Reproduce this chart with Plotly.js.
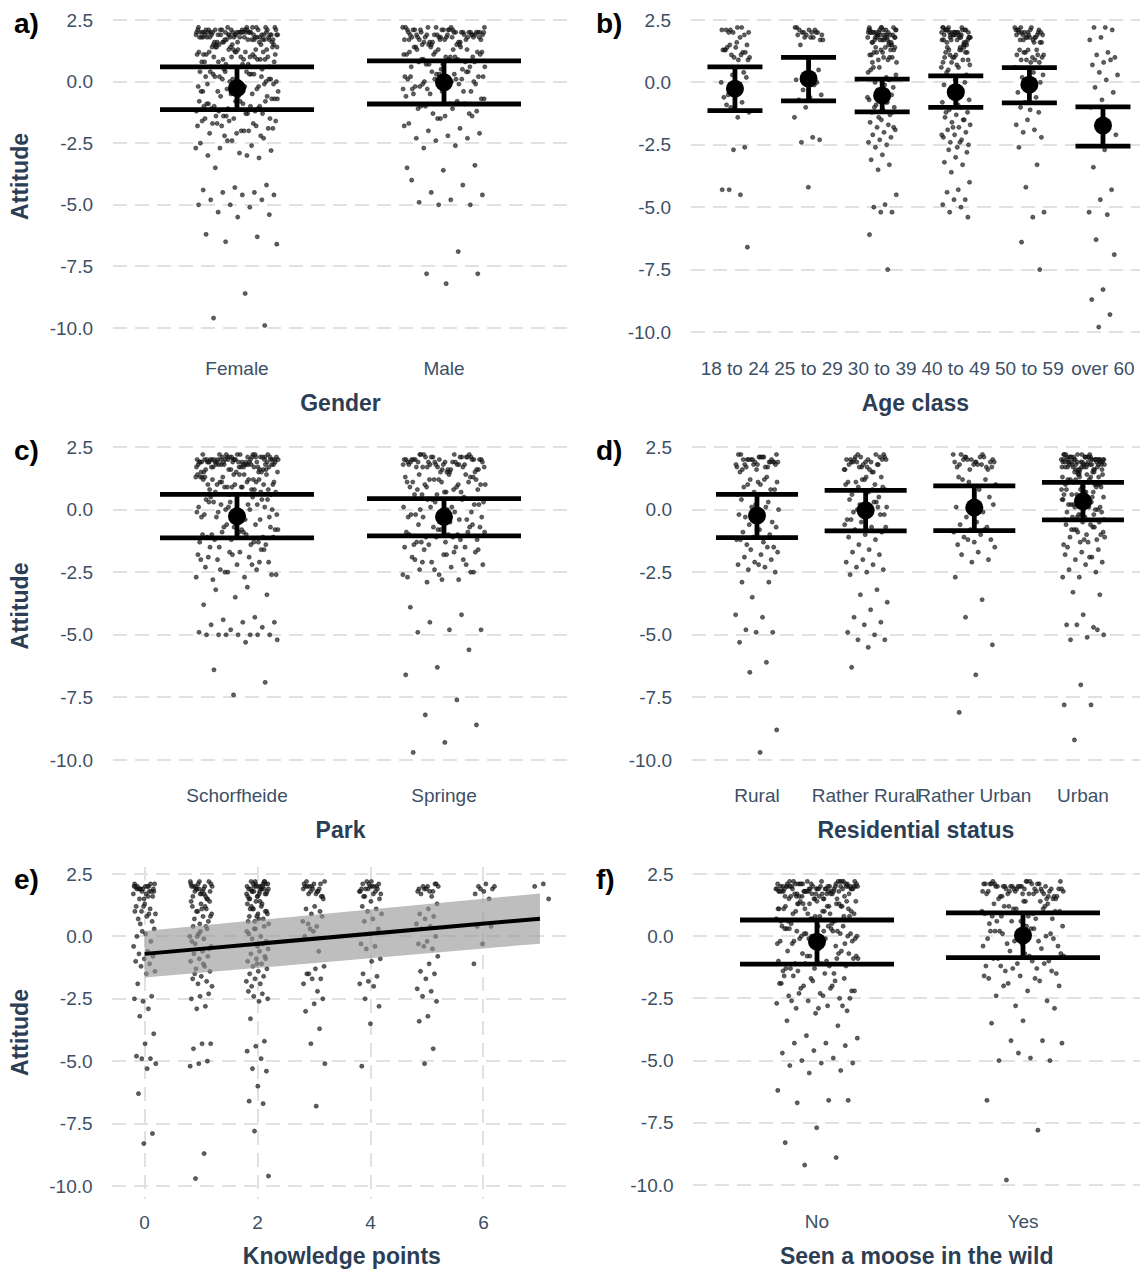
<!DOCTYPE html>
<html>
<head>
<meta charset="utf-8">
<script src="https://cdn.plot.ly/plotly-3.0.1.min.js"></script>
<style>html,body{margin:0;padding:0;background:#fff;}#chart{width:1140px;height:1269px;}</style>
</head>
<body>
<div id="chart"></div>
<script>
// ---------------- DATA ----------------
const yTickVals = [2.5, 0, -2.5, -5, -7.5, -10];
const yTickText = ['2.5', '0.0', '-2.5', '-5.0', '-7.5', '-10.0'];

// a) Gender
const genderCats = ['Female', 'Male'];
const attFemale = [2.2,2.1,2.0,1.9,1.8,1.7,1.6,1.5,2.1,2.0,1.9,1.8,2.2,2.0,1.9,1.7,1.6,2.1,1.8,2.0,1.9,2.1,1.5,1.7,2.0,1.8,2.2,1.9,1.6,2.0,2.1,1.8,1.9,2.0,1.7,1.5,2.1,1.9,2.0,1.8,1.6,2.2,2.0,1.9,1.7,2.1,1.8,2.0,1.5,1.9,2.0,1.8,2.1,1.7,1.9,2.0,1.6,2.2,1.8,2.0,1.9,2.1,1.7,2.0,1.8,1.5,1.9,2.1,2.0,1.6,1.8,2.0,1.9,2.2,1.7,2.1,1.8,2.0,1.9,1.5,2.0,1.7,2.1,1.9,1.8,2.0,1.6,2.2,1.9,2.1,
1.4,1.3,1.2,1.1,1.0,0.9,0.8,0.7,0.6,0.5,1.4,1.2,1.0,0.8,0.6,1.3,1.1,0.9,0.7,1.4,1.2,1.0,0.9,1.3,0.8,1.1,0.6,1.4,1.0,1.2,0.9,1.3,1.1,0.7,1.4,1.0,1.2,0.8,1.3,0.5,1.1,0.9,1.4,1.2,1.0,
0.4,0.3,0.2,0.1,0.0,-0.1,-0.2,-0.3,-0.4,0.4,0.2,0.0,-0.2,-0.4,0.3,0.1,-0.1,-0.3,0.4,0.2,0.0,-0.2,0.3,-0.4,0.1,-0.1,0.2,-0.3,0.4,0.0,-0.2,0.3,-0.1,0.1,-0.4,
-0.5,-0.6,-0.7,-0.8,-0.9,-1.0,-1.1,-1.2,-1.3,-1.4,-0.6,-0.8,-1.0,-1.2,-1.4,-0.7,-0.9,-1.1,-1.3,-0.5,-0.8,-1.0,-1.2,-1.5,-0.6,-0.9,-1.1,-1.4,-0.7,-1.3,-1.0,-0.8,
-1.5,-1.6,-1.7,-1.8,-1.9,-2.0,-2.1,-2.2,-1.6,-1.8,-2.0,-1.7,-1.9,-2.1,-1.5,-1.8,-2.2,-1.6,-2.0,-1.7,
-2.3,-2.4,-2.5,-2.6,-2.7,-2.8,-2.9,-3.0,-3.1,-2.4,-2.7,-3.0,
-3.5,-4.2,-4.3,-4.4,-4.5,-4.5,-4.6,-4.6,-4.8,-4.8,-5.0,-5.0,-5.1,-5.3,-5.4,-5.5,-6.2,-6.3,-6.5,-6.6,-8.6,-9.6,-9.9];
const attMale = [2.2,2.1,2.0,1.9,1.8,1.7,1.6,1.5,2.0,2.1,1.9,1.8,2.2,1.7,2.0,1.6,1.9,2.1,1.8,2.0,1.5,1.9,2.2,1.7,2.0,1.8,2.1,1.6,1.9,2.0,1.8,2.1,1.7,1.9,2.2,2.0,1.5,1.8,2.1,1.9,2.0,1.6,1.7,2.1,1.8,2.0,1.9,2.2,1.5,1.8,2.0,1.7,2.1,1.9,1.6,2.0,1.8,2.1,1.9,1.7,2.0,1.5,2.2,1.8,1.9,
1.4,1.3,1.2,1.1,1.0,0.9,0.8,0.7,0.6,0.5,1.4,1.2,1.0,0.8,0.6,1.3,1.1,0.9,0.7,1.2,1.0,1.4,0.8,1.1,0.6,1.3,0.9,1.0,0.5,1.2,1.4,0.7,1.1,0.9,1.3,
0.4,0.3,0.2,0.1,0.0,-0.1,-0.2,-0.3,-0.4,0.4,0.2,0.0,-0.2,-0.4,0.3,0.1,-0.1,-0.3,0.2,0.0,-0.2,0.4,0.1,-0.3,0.3,-0.1,0.0,-0.4,0.2,0.1,
-0.5,-0.7,-0.9,-1.1,-1.3,-1.5,-0.6,-0.8,-1.0,-1.2,-1.4,-0.5,-0.9,-1.3,-0.7,-1.1,-1.0,-1.4,
-1.5,-1.7,-1.9,-2.0,-2.1,-2.2,-2.3,-2.3,-2.4,-1.8,-2.6,-2.7,
-3.4,-3.6,-4.0,-4.2,-4.5,-4.6,-4.8,-4.9,-5.0,-5.0,-3.5,-6.9,-7.8,-7.8,-8.2];
const genderMean = [-0.27, -0.03];
const genderLow  = [-1.14, -0.91];
const genderHigh = [0.60, 0.84];

// b) Age class
const ageCats = ['18 to 24', '25 to 29', '30 to 39', '40 to 49', '50 to 59', 'over 60'];
const att18to24 = [2.2,2.1,2.0,2.2,2.1,1.9,2.0,2.1,1.8,2.0,1.5,1.4,1.3,1.2,1.1,1.0,0.9,1.4,1.2,1.0,1.3,1.1,1.5,0.9,1.6,1.3,0.4,0.3,0.0,-0.3,-0.5,0.2,-0.1,-0.6,-0.8,-1.0,-1.2,-1.4,-0.9,-2.6,-2.7,-4.3,-4.5,-4.3,-6.6];
const att25to29 = [2.2,2.1,2.0,1.9,1.8,2.1,2.0,1.9,2.2,1.8,2.0,1.7,2.1,1.9,2.0,1.8,1.7,2.0,1.5,0.5,0.3,0.1,-0.1,-0.3,-0.5,-0.6,-0.7,0.0,-1.0,-1.4,-2.2,-2.4,-2.3,-4.2];
const att30to39 = [2.2,2.1,2.0,1.9,1.8,1.7,1.6,1.5,2.1,2.0,1.9,1.8,2.2,1.7,2.0,1.6,1.9,2.1,1.8,2.0,1.5,1.9,2.2,1.7,2.0,1.8,2.1,1.6,1.9,2.0,1.8,2.1,1.7,1.9,2.2,2.0,1.5,1.8,2.1,1.9,2.0,1.6,1.7,2.1,1.8,
1.4,1.3,1.2,1.1,1.0,0.9,0.8,1.4,1.2,1.0,1.3,1.1,0.9,1.2,1.4,1.0,0.8,1.3,
0.6,0.4,0.2,0.0,-0.2,-0.4,0.5,0.1,-0.3,0.3,-0.1,0.6,
-0.5,-0.6,-0.7,-0.8,-0.9,-1.0,-1.1,-1.2,-1.3,-1.4,-0.6,-0.8,-1.0,-1.2,-1.5,
-1.6,-1.7,-1.8,-1.9,-2.0,-2.1,-2.2,-2.3,-2.4,-2.5,-2.6,-1.8,
-2.9,-3.1,-3.3,-3.5,-4.5,-4.9,-5.0,-5.2,-5.2,-6.1,-7.5];
const att40to49 = [2.1,2.0,2.2,1.9,1.8,2.0,1.7,2.1,1.6,1.9,2.0,1.8,2.2,1.5,2.0,1.9,2.1,1.7,1.8,2.0,1.6,2.1,1.9,2.2,1.8,2.0,1.7,1.9,2.1,1.5,2.0,1.8,1.9,2.1,1.6,2.0,1.7,2.2,1.9,1.8,2.0,2.1,1.5,1.9,1.7,
1.4,1.3,1.2,1.1,1.0,0.9,0.8,0.7,0.6,1.4,1.2,1.0,0.8,1.3,1.1,0.9,0.7,1.2,1.4,1.0,0.6,1.3,
0.5,0.3,0.1,-0.1,-0.3,-0.5,-0.7,-0.9,0.4,0.0,-0.4,-0.8,
-1.0,-1.1,-1.2,-1.3,-1.4,-1.5,-1.6,-1.7,-1.8,-1.9,-2.0,-2.1,-2.2,-2.3,-2.4,-2.5,-2.6,-1.2,-1.5,-1.8,-2.1,-2.4,
-2.7,-2.8,-3.0,-3.2,-3.3,-3.6,-4.0,-4.3,-4.4,-4.7,-4.7,-4.9,-5.0,-5.2,-5.4];
const att50to59 = [2.2,2.1,2.0,1.9,1.8,1.7,1.6,2.1,2.0,1.9,1.8,2.2,1.7,2.0,1.6,1.9,2.1,1.8,2.0,1.9,2.2,1.7,2.0,1.8,2.1,1.6,1.9,2.0,1.8,2.1,
1.3,1.2,1.1,1.0,0.9,0.8,1.3,1.1,0.9,1.2,1.0,0.8,1.3,1.1,0.9,
0.6,0.4,0.2,0.0,-0.2,-0.4,-0.6,-0.8,0.3,-0.1,
-1.0,-1.2,-1.5,-1.7,-1.9,-2.0,-2.2,-1.1,
-2.6,-3.3,-4.2,-5.2,-5.4,-6.4,-7.5];
const attOver60 = [2.2,2.2,2.1,1.8,1.7,1.2,1.1,1.0,0.8,0.7,0.9,0.4,0.3,0.1,-0.2,-0.4,-0.7,-1.0,-1.6,-1.8,-2.1,-2.7,-3.4,-4.3,-4.7,-5.2,-5.3,-6.3,-6.9,-8.3,-8.7,-9.3,-9.8];
const ageMean = [-0.25, 0.15, -0.52, -0.39, -0.09, -1.73];
const ageLow  = [-1.13, -0.74, -1.18, -1.00, -0.82, -2.55];
const ageHigh = [0.62, 1.00, 0.13, 0.26, 0.59, -0.98];

// c) Park
const parkCats = ['Schorfheide', 'Springe'];
const attSchorfheide = [2.1,2.0,1.9,2.2,1.8,2.0,1.7,1.9,2.1,1.6,2.0,1.8,1.9,2.2,1.5,2.0,2.1,1.8,1.9,1.7,2.0,1.6,2.1,1.9,1.8,2.2,2.0,1.7,1.9,1.5,2.1,2.0,1.8,1.9,1.6,2.0,2.2,1.7,2.1,1.8,1.9,2.0,1.5,2.1,1.8,1.9,2.0,1.7,2.2,1.6,1.9,2.0,2.1,1.8,1.7,2.0,1.9,1.5,2.1,2.0,1.8,2.2,1.9,1.6,2.0,1.7,2.1,1.8,1.9,2.0,1.5,2.2,1.9,2.0,1.8,1.7,2.1,1.6,1.9,2.0,1.8,2.1,1.9,2.0,1.7,2.2,1.5,1.9,2.0,1.8,
1.4,1.3,1.2,1.1,1.0,0.9,0.8,0.7,0.6,1.4,1.2,1.0,0.8,0.6,1.3,1.1,0.9,0.7,1.4,1.2,1.0,0.9,1.3,0.8,1.1,0.6,1.4,1.0,1.2,0.9,1.3,1.1,0.7,1.4,1.0,1.2,0.8,1.3,1.1,0.9,
0.5,0.4,0.3,0.1,0.0,-0.1,-0.3,-0.5,0.4,0.2,0.0,-0.2,-0.4,0.3,0.1,-0.1,-0.3,0.5,0.2,0.0,-0.2,0.3,-0.4,0.1,-0.1,0.2,-0.3,0.4,0.0,-0.2,
-0.6,-0.7,-0.8,-0.9,-1.0,-1.1,-1.2,-1.3,-1.4,-1.5,-0.7,-0.9,-1.1,-1.3,-0.6,-0.8,-1.0,-1.2,-1.4,-0.7,-1.0,-1.3,-0.9,-1.1,-0.8,
-1.5,-1.6,-1.7,-1.8,-1.9,-2.0,-2.1,-2.2,-2.3,-2.4,-2.5,-2.6,-2.7,-2.8,-1.6,-1.8,-2.0,-2.2,-2.4,-2.6,-1.7,-1.9,-2.1,-2.5,-2.7,
-3.1,-3.2,-3.4,-3.5,-3.8,-4.3,-4.4,-4.5,-4.5,-4.6,-4.7,-4.8,-4.9,-5.0,-5.0,-5.0,-5.0,-5.0,-5.0,-5.0,-5.2,-5.3,-6.4,-6.9,-7.4];
const attSpringe = [2.2,2.1,2.0,1.9,1.8,1.7,1.6,1.5,2.0,2.1,1.9,1.8,2.2,1.7,2.0,1.6,1.9,2.1,1.8,2.0,1.5,1.9,2.2,1.7,2.0,1.8,2.1,1.6,1.9,2.0,1.8,2.1,1.7,1.9,2.2,2.0,1.5,1.8,2.1,1.9,2.0,1.6,1.7,2.1,1.8,2.0,1.9,2.2,1.5,1.8,2.0,1.7,2.1,1.9,1.6,
1.4,1.3,1.2,1.1,1.0,0.9,0.8,0.7,0.6,1.4,1.2,1.0,0.8,0.6,1.3,1.1,0.9,0.7,1.2,1.0,1.4,0.8,1.1,0.6,1.3,0.9,1.0,1.2,0.7,1.1,
0.5,0.4,0.3,0.1,0.0,-0.1,-0.2,-0.3,-0.4,0.4,0.2,0.0,-0.2,-0.4,0.3,0.1,-0.1,-0.3,0.2,0.0,-0.2,0.4,0.1,-0.3,-0.5,
-0.6,-0.7,-0.8,-0.9,-1.0,-1.1,-1.2,-1.3,-1.4,-1.5,-0.7,-0.9,-1.1,-1.3,-0.6,-0.8,-1.0,-1.2,-1.4,-0.7,-1.0,-1.3,-0.9,-1.1,-1.5,
-1.5,-1.6,-1.7,-1.8,-1.9,-2.0,-2.1,-2.2,-2.3,-2.4,-2.5,-2.6,-2.7,-2.8,-2.9,-1.6,-1.8,-2.0,-2.2,-2.4,-2.6,-1.7,-2.1,-2.5,-2.8,
-3.9,-4.2,-4.5,-4.8,-4.8,-4.9,-5.6,-6.3,-6.6,-7.6,-8.2,-8.6,-9.3,-9.7];
const parkMean = [-0.27, -0.29];
const parkLow  = [-1.13, -1.05];
const parkHigh = [0.61, 0.44];

// d) Residential status
const resCats = ['Rural', 'Rather Rural', 'Rather Urban', 'Urban'];
const attRural = [2.2,2.1,2.0,1.9,1.8,1.7,2.1,2.0,1.9,1.8,2.2,1.7,2.0,1.9,2.1,1.8,2.0,1.9,2.2,1.7,2.0,1.8,2.1,1.6,1.9,2.0,1.8,2.1,1.7,1.9,1.6,1.5,
1.3,1.2,1.1,1.0,0.9,0.8,0.7,0.6,1.2,1.0,0.8,1.1,
0.4,0.3,0.1,0.0,-0.1,-0.3,-0.5,0.2,-0.2,0.1,
-0.6,-0.7,-0.8,-0.9,-1.0,-1.1,-1.2,-1.3,-1.4,-1.5,-0.8,-1.2,
-1.5,-1.6,-1.7,-1.8,-1.9,-2.0,-2.1,-2.2,-2.3,-2.4,-2.5,-2.2,
-2.9,-2.9,-3.5,-4.2,-4.3,-4.8,-4.9,-4.9,-5.3,-6.1,-6.5,-8.8,-9.7];
const attRatherRural = [2.2,2.1,2.0,1.9,1.8,1.7,1.6,1.5,2.1,2.0,1.9,1.8,2.2,1.7,2.0,1.6,1.9,2.1,1.8,2.0,1.5,1.9,2.2,1.7,2.0,1.8,2.1,1.6,1.9,2.0,
1.3,1.2,1.1,1.0,0.9,0.8,0.7,0.6,0.5,1.2,1.0,0.8,1.1,0.9,1.3,
0.4,0.3,0.2,0.1,0.0,-0.1,-0.2,-0.3,-0.4,0.3,0.0,-0.2,0.2,-0.4,0.1,
-0.5,-0.6,-0.7,-0.8,-0.9,-1.0,-1.1,-1.2,-1.4,-0.7,
-1.6,-1.7,-1.8,-2.0,-2.1,-2.2,-2.3,-2.4,-2.5,-2.6,
-3.2,-3.4,-3.7,-4.0,-4.3,-4.5,-4.6,-4.9,-5.0,-5.2,-5.2,-5.5,-6.3];
const attRatherUrban = [2.2,2.1,2.0,1.9,1.8,1.7,1.6,2.2,2.1,2.0,1.9,1.8,1.7,2.1,2.0,1.9,1.8,2.2,1.6,2.0,1.9,1.8,2.1,1.7,1.9,
1.3,1.2,1.1,1.0,0.8,1.2,
0.5,0.3,0.1,-0.1,-0.3,0.2,
-0.5,-0.6,-0.7,-0.8,-0.9,-1.0,-1.1,-1.2,-1.3,-1.4,-0.8,-1.2,
-1.5,-1.7,-1.8,-2.0,-2.1,-2.7,
-3.6,-4.3,-5.4,-6.6,-8.1];
const attUrban = [2.2,2.1,2.0,1.9,1.8,1.7,1.6,1.5,2.0,2.1,1.9,1.8,2.2,1.7,2.0,1.6,1.9,2.1,1.8,2.0,1.5,1.9,2.2,1.7,2.0,1.8,2.1,1.6,1.9,2.0,1.8,2.1,1.7,1.9,2.2,2.0,1.5,1.8,2.1,1.9,2.0,1.6,1.7,2.1,1.8,2.0,1.9,2.2,1.5,1.8,2.0,1.7,2.1,1.9,1.6,2.0,1.8,2.1,1.9,1.7,2.0,1.5,2.2,1.8,1.9,2.1,2.0,1.7,1.9,1.8,2.0,1.6,2.1,1.9,2.0,
1.4,1.3,1.2,1.1,1.0,0.9,0.8,0.7,0.6,0.5,1.4,1.2,1.0,0.8,0.6,1.3,1.1,0.9,0.7,1.2,1.0,1.4,0.8,1.1,0.6,1.3,0.9,1.0,0.5,1.2,1.4,0.7,1.1,0.9,1.3,
0.4,0.3,0.2,0.1,0.0,-0.1,-0.2,-0.3,-0.4,0.4,0.2,0.0,-0.2,-0.4,0.3,0.1,-0.1,-0.3,0.2,0.0,-0.2,0.4,0.1,-0.3,-0.5,
-0.5,-0.6,-0.7,-0.8,-0.9,-1.0,-1.1,-1.2,-1.3,-1.4,-0.6,-0.8,-1.0,-1.2,-1.5,-0.7,-0.9,-1.1,-1.3,-0.8,
-1.6,-1.7,-1.8,-1.9,-2.0,-2.1,-2.2,-2.4,-2.5,-2.7,-2.7,-1.9,
-3.3,-3.4,-4.2,-4.6,-4.7,-4.6,-5.0,-5.1,-5.2,-4.8,-7.0,-7.8,-7.8,-9.2];
const resMean = [-0.24, -0.03, 0.08, 0.33];
const resLow  = [-1.12, -0.85, -0.84, -0.41];
const resHigh = [0.61, 0.77, 0.95, 1.09];

// e) Knowledge points
const knowledgeLevels = [0, 1, 2, 3, 4, 5, 6, 7];
const attK0 = [2.1,2.0,1.9,1.8,2.0,1.9,2.1,1.8,1.7,2.0,1.9,1.6,1.5,2.0,1.8,1.9,2.1,1.7,2.0,1.8,1.9,2.0,1.6,1.5,1.9,1.3,1.2,1.1,1.0,0.9,0.8,0.7,0.6,1.2,1.0,0.9,0.5,0.3,0.1,0.0,-0.2,0.2,-0.4,-0.6,-0.7,-0.8,-0.9,-1.0,-1.1,-1.2,-1.4,-1.5,-1.9,-2.4,-2.6,-2.5,-2.9,-3.2,-3.9,-4.3,-4.8,-4.9,-4.9,-5.1,-5.3,-6.3,-7.9,-8.3];
const attK1 = [2.2,2.1,2.0,1.9,1.8,1.7,1.6,1.5,2.1,2.0,1.9,1.8,2.2,1.7,2.0,1.6,1.9,2.1,1.8,2.0,1.5,1.9,2.2,1.7,2.0,1.4,1.3,1.2,1.1,1.0,0.9,0.8,0.7,0.6,0.5,1.4,1.2,1.0,0.8,1.1,0.4,0.3,0.1,0.0,-0.1,-0.3,-0.5,0.2,-0.2,0.4,0.0,-0.4,-0.6,-0.7,-0.8,-0.9,-1.0,-1.2,-1.3,-1.4,-1.6,-1.7,-1.8,-1.9,-2.0,-1.1,-1.5,-2.3,-2.4,-2.5,-2.8,-2.9,-4.3,-4.3,-4.5,-5.0,-5.1,-5.2,-8.7,-9.7];
const attK2 = [2.2,2.1,2.0,1.9,1.8,1.7,1.6,1.5,2.1,2.0,1.9,1.8,2.2,1.7,2.0,1.6,1.9,2.1,1.8,2.0,1.5,1.9,2.2,1.7,2.0,1.8,2.1,1.6,1.9,2.0,1.8,2.1,1.7,1.9,2.2,1.4,1.3,1.2,1.1,1.0,0.9,0.8,0.7,0.6,0.5,1.4,1.2,1.0,0.8,0.6,1.3,1.1,0.9,0.7,1.1,0.4,0.3,0.2,0.0,-0.1,-0.2,-0.4,0.1,-0.3,0.3,-0.5,-0.6,-0.7,-0.8,-0.9,-1.0,-1.1,-1.2,-1.3,-1.4,-1.5,-1.6,-1.7,-1.8,-1.9,-2.0,-0.9,-1.1,-2.2,-2.3,-2.4,-2.5,-2.6,-3.3,-4.2,-4.4,-4.6,-4.9,-5.3,-5.4,-6.0,-6.6,-6.7,-7.8,-9.6];
const attK3 = [2.2,2.1,2.0,1.9,1.8,1.7,1.6,2.1,2.0,1.9,1.8,2.2,1.7,2.0,1.6,1.9,2.1,1.8,2.0,1.5,1.2,1.1,1.0,0.9,0.6,0.4,0.5,0.8,0.2,0.0,-0.6,0.3,-1.2,-1.3,-1.5,-1.7,-1.7,-1.9,-2.2,-1.5,-2.5,-2.7,-3.0,-3.7,-4.3,-5.1,-6.8];
const attK4 = [2.2,2.1,2.0,1.9,1.8,1.7,1.6,2.1,2.0,1.9,1.8,2.2,1.7,2.0,1.6,1.9,2.1,1.8,2.0,1.9,1.5,1.4,1.2,1.1,1.0,0.9,0.7,0.6,0.3,0.1,-0.3,-0.4,-0.5,-0.9,-1.0,-1.5,-1.6,-1.8,-1.9,-2.0,-2.5,-2.8,-3.5,-5.2];
const attK5 = [2.1,2.0,1.9,1.8,1.9,2.0,1.8,1.7,2.1,1.9,1.8,1.6,2.0,1.3,1.1,0.9,0.8,0.7,0.5,0.4,0.3,0.0,-0.2,-0.3,-0.5,-0.4,-0.8,-1.1,-1.4,-1.5,-1.7,-2.1,-2.2,-2.4,-2.6,-3.2,-3.4,-4.5,-5.1];
const attK6 = [2.0,1.9,1.8,1.7,1.5,1.9,2.0,2.1,0.4,0.4,-0.3,-1.1];
const attK7 = [2.1,2.0,1.5];
const fitX    = [0, 7];
const fitY    = [-0.70, 0.71];
const fitLow  = [-1.65, -0.29];
const fitHigh = [0.22, 1.72];

// f) Seen a moose in the wild
const mooseCats = ['No', 'Yes'];
const attNo = [2.2,2.0,1.9,2.1,1.8,1.7,2.0,1.9,1.6,2.1,1.8,2.0,1.5,1.9,2.2,1.7,2.0,1.8,2.1,1.9,1.6,2.0,1.8,2.2,1.9,1.7,2.1,2.0,1.5,1.8,1.9,2.1,2.0,1.7,1.6,2.2,1.9,1.8,2.0,2.1,1.7,1.9,2.0,1.5,1.8,2.1,1.9,2.2,1.6,2.0,1.8,1.7,2.1,1.9,2.0,1.5,2.2,1.8,1.9,2.0,1.6,2.1,1.7,1.9,2.0,1.8,2.2,1.5,2.0,1.9,2.1,1.8,1.7,1.6,2.0,1.9,2.1,2.2,1.8,2.0,1.9,1.7,2.1,1.5,2.0,1.8,1.6,1.9,2.2,2.0,
1.2,1.3,1.1,1.2,1.3,1.1,1.4,1.2,1.3,1.1,1.4,1.0,0.9,0.8,0.7,0.6,0.5,1.4,1.0,0.8,0.6,1.3,0.9,0.7,1.2,1.0,1.4,0.8,1.1,0.6,1.3,0.9,1.0,0.5,1.2,0.7,1.1,0.9,1.3,0.8,
0.4,0.3,0.2,0.1,0.0,-0.1,-0.2,-0.3,-0.4,0.4,0.2,0.0,-0.2,-0.4,0.3,0.1,-0.1,-0.3,0.4,0.2,0.0,-0.2,0.3,-0.4,0.1,-0.1,0.2,-0.3,0.4,0.0,-0.2,0.3,-0.1,0.1,-0.5,
-0.6,-0.7,-0.8,-0.9,-1.0,-1.1,-1.2,-1.3,-1.4,-1.5,-0.7,-0.9,-1.1,-1.3,-0.6,-0.8,-1.0,-1.2,-1.4,-0.7,-1.0,-1.3,-0.9,-1.1,-0.8,
-1.5,-1.6,-1.7,-1.8,-1.9,-2.0,-2.1,-2.2,-2.3,-2.4,-2.5,-2.6,-2.7,-2.8,-2.9,-3.0,-3.1,-1.6,-1.8,-2.0,-2.2,-2.4,-2.6,-2.8,-1.7,-1.9,-2.1,-2.3,-2.5,-2.9,
-3.4,-3.6,-4.0,-4.1,-4.3,-4.3,-4.4,-4.6,-4.7,-4.9,-5.0,-5.1,-5.1,-5.2,-5.4,-5.5,-6.2,-6.6,-6.7,-6.6,-7.7,-8.3,-8.9,-9.2];
const attYes = [2.2,2.1,2.0,1.9,1.8,1.7,1.6,1.5,2.0,2.1,1.9,1.8,2.2,1.7,2.0,1.6,1.9,2.1,1.8,2.0,1.5,1.9,2.2,1.7,2.0,1.8,2.1,1.6,1.9,2.0,1.8,2.1,1.7,1.9,2.2,2.0,1.5,1.8,2.1,1.9,2.0,1.6,1.7,2.1,1.8,2.0,1.9,2.2,1.5,1.8,2.0,1.7,2.1,1.9,1.6,
1.4,1.3,1.2,1.1,1.0,0.9,0.8,0.7,0.6,0.5,1.4,1.2,1.0,0.8,0.6,1.3,1.1,0.9,0.7,1.2,1.0,1.4,0.8,1.1,0.6,
0.4,0.3,0.2,0.1,0.0,-0.1,-0.2,-0.3,-0.4,0.4,0.2,0.0,-0.2,-0.4,0.3,0.1,-0.1,-0.3,0.2,-0.5,
-0.6,-0.7,-0.8,-0.9,-1.0,-1.1,-1.2,-1.3,-1.4,-1.5,-0.7,-0.9,-1.1,-1.3,-0.8,-1.0,-1.2,-1.4,
-1.6,-1.7,-1.8,-1.9,-2.0,-2.2,-2.4,-2.6,-2.8,-1.6,-1.7,-2.0,
-2.9,-3.4,-3.5,-4.2,-4.2,-4.3,-4.9,-5.0,-5.0,-4.7,-6.6,-7.8,-9.8];
const mooseMean = [-0.22, 0.03];
const mooseLow  = [-1.12, -0.86];
const mooseHigh = [0.65, 0.94];

// ---------------- PRESENTATION ----------------
const W = 1140, H = 1269;
const FONT = 'Liberation Sans, Arial, Helvetica, sans-serif';
const TICKC = '#3d4f66', TITLEC = '#2c3e55', GRIDC = '#e1e1e1';
const JIT = 0.2; // horizontal jitter half-width (category units)
function jitter(i, shift) {           // deterministic, evenly spread offsets
  const u = ((i + 1) * 0.6180339887 + shift) % 1;
  return (u - 0.5) * 2 * JIT;
}
function xd(l, r) { return [l / W, r / W]; }
function yd(t, b) { return [1 - b / H, 1 - t / H]; }

const panels = [
  {lab:'a)', title:'Gender', cats:genderCats, groups:[attFemale, attMale], mean:genderMean, low:genderLow, high:genderHigh,
   xpx:[112.8, 568.2], xr:[0.4, 2.6], ypx:[12.6, 340.3], cap:77, ytitle:true, tl:11, so:16},
  {lab:'b)', title:'Age class', cats:ageCats, groups:[att18to24, att25to29, att30to39, att40to49, att50to59, attOver60], mean:ageMean, low:ageLow, high:ageHigh,
   xpx:[690.8, 1140], xr:[0.4, 6.503], ypx:[12.5, 344.5], cap:27.5, ytitle:false, tl:7, so:16},
  {lab:'c)', title:'Park', cats:parkCats, groups:[attSchorfheide, attSpringe], mean:parkMean, low:parkLow, high:parkHigh,
   xpx:[112.8, 568.2], xr:[0.4, 2.6], ypx:[439.5, 772.5], cap:77, ytitle:true, tl:6, so:16},
  {lab:'d)', title:'Residential status', cats:resCats, groups:[attRural, attRatherRural, attRatherUrban, attUrban], mean:resMean, low:resLow, high:resHigh,
   xpx:[691.8, 1140], xr:[0.4, 4.525], ypx:[439.5, 772.5], cap:41, ytitle:false, tl:6, so:16},
  {lab:'e)', title:'Knowledge points', numeric:true, groups:[attK0, attK1, attK2, attK3, attK4, attK5, attK6, attK7],
   xpx:[112.4, 571.3], xr:[-0.57, 7.555], ypx:[866.5, 1198.5], ytitle:true, tl:7, so:20},
  {lab:'f)', title:'Seen a moose in the wild', cats:mooseCats, groups:[attNo, attYes], mean:mooseMean, low:mooseLow, high:mooseHigh,
   xpx:[693.4, 1140], xr:[0.4, 2.568], ypx:[866.5, 1197.4], cap:77, ytitle:false, tl:7, so:20}
];

const traces = [];
const layout = {
  width: W, height: H, margin: {l:0, r:0, t:0, b:0},
  paper_bgcolor: '#ffffff', plot_bgcolor: '#ffffff',
  showlegend: false, hovermode: 'closest',
  font: {family: FONT, color: TICKC},
  annotations: []
};

panels.forEach((p, n) => {
  const s = n === 0 ? '' : String(n + 1);
  const xa = 'x' + s, ya = 'y' + s;
  const ptMarker = {size: 4.2, color: 'rgba(35,35,35,0.72)', line: {width: 0.5, color: 'rgba(0,0,0,0.8)'}};

  p.groups.forEach((vals, gi) => {
    const base = p.numeric ? knowledgeLevels[gi] : gi + 1;
    traces.push({
      type: 'scatter', mode: 'markers', xaxis: xa, yaxis: ya,
      x: vals.map((v, i) => base + jitter(i, gi * 0.37 + n * 0.11)),
      y: vals, marker: ptMarker, hoverinfo: 'y', showlegend: false
    });
  });

  if (p.numeric) {
    traces.push({type:'scatter', mode:'lines', xaxis:xa, yaxis:ya, x:fitX, y:fitHigh,
      line:{width:0, color:'rgba(0,0,0,0)'}, hoverinfo:'skip', showlegend:false});
    traces.push({type:'scatter', mode:'lines', xaxis:xa, yaxis:ya, x:fitX, y:fitLow,
      fill:'tonexty', fillcolor:'rgba(150,150,150,0.62)',
      line:{width:0, color:'rgba(0,0,0,0)'}, hoverinfo:'skip', showlegend:false});
    traces.push({type:'scatter', mode:'lines', xaxis:xa, yaxis:ya, x:fitX, y:fitY,
      line:{width:4, color:'#000000'}, hoverinfo:'skip', showlegend:false});
  } else {
    traces.push({
      type:'scatter', mode:'markers', xaxis:xa, yaxis:ya,
      x: p.cats.map((c, i) => i + 1), y: p.mean,
      error_y: {type:'data', symmetric:false,
        array: p.high.map((h, i) => h - p.mean[i]),
        arrayminus: p.low.map((l, i) => p.mean[i] - l),
        color:'#000000', thickness:4.8, width:p.cap},
      marker: {size:18, color:'#000000'}, hoverinfo:'y', showlegend:false
    });
  }

  const xaxis = {
    anchor: ya, domain: xd(p.xpx[0], p.xpx[1]), range: p.xr,
    showgrid: !!p.numeric, gridcolor: GRIDC, gridwidth: 1.6, griddash: '14px,8px',
    zeroline: false, showline: false,
    ticks: 'outside', ticklen: p.tl, tickcolor: 'rgba(0,0,0,0)', tickangle: 0,
    tickfont: {family: FONT, size: 19, color: TICKC},
    title: {text: p.title, standoff: p.so, font: {family: FONT, size: 23, color: TITLEC, weight: 'bold'}},
    fixedrange: true
  };
  if (p.numeric) { xaxis.tickvals = [0, 2, 4, 6]; xaxis.ticktext = ['0', '2', '4', '6']; }
  else { xaxis.tickvals = p.cats.map((c, i) => i + 1); xaxis.ticktext = p.cats; }

  const yaxis = {
    anchor: xa, domain: yd(p.ypx[0], p.ypx[1]), range: [-10.5, 2.8],
    tickvals: yTickVals, ticktext: yTickText,
    showgrid: true, gridcolor: GRIDC, gridwidth: 1.6, griddash: '14px,8px',
    zeroline: false, showline: false,
    ticks: 'outside', ticklen: 15, tickcolor: 'rgba(0,0,0,0)',
    tickfont: {family: FONT, size: 19, color: TICKC},
    fixedrange: true
  };
  if (p.ytitle) yaxis.title = {text: 'Attitude', standoff: 14, font: {family: FONT, size: 23, color: TITLEC, weight: 'bold'}};

  layout['xaxis' + s] = xaxis;
  layout['yaxis' + s] = yaxis;

  const labX = (n % 2 === 0) ? 12 : 594;
  const labY = [23, 23, 451, 451, 879, 879][n];
  layout.annotations.push({
    text: p.lab, xref: 'paper', yref: 'paper', x: labX / W, y: 1 - labY / H,
    xanchor: 'left', yanchor: 'middle', showarrow: false,
    font: {family: FONT, size: 28, color: '#000000', weight: 'bold'}
  });
});

Plotly.newPlot('chart', traces, layout, {displayModeBar: false, staticPlot: false});
</script>
</body>
</html>
